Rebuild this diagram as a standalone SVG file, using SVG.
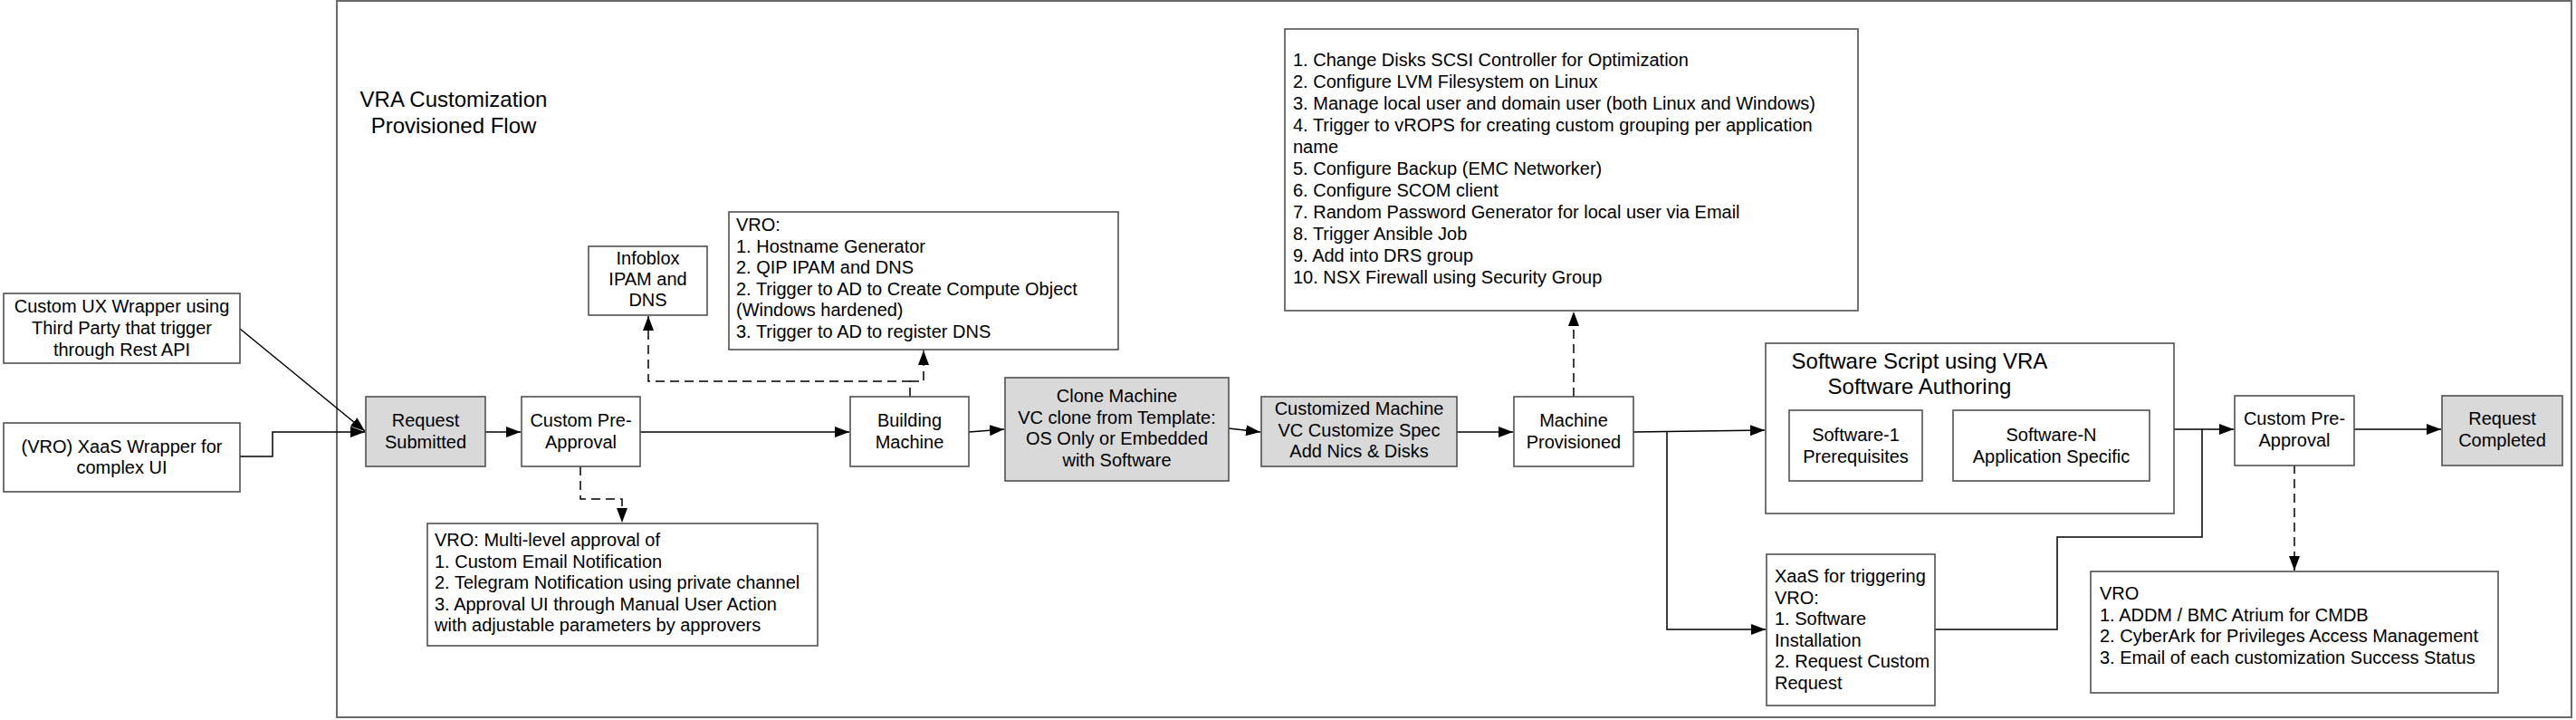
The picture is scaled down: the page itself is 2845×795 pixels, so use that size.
<svg xmlns="http://www.w3.org/2000/svg" width="2845" height="795" viewBox="0 0 2845 795">
<defs>
<style>
text{font-family:"Liberation Sans",Arial,sans-serif;font-size:20px;fill:#000}
.c{text-anchor:middle}
.t{font-size:24px}
.box{fill:#fff;stroke:#505050;stroke-width:1.6}
.gray{fill:#d9d9d9;stroke:#505050;stroke-width:1.6}
.frame{fill:#fff;stroke:#6a6a6a;stroke-width:2}
.ln{fill:none;stroke:#000;stroke-width:1.5}
.lg{fill:none;stroke:#7a7a7a;stroke-width:2}
.ds{fill:none;stroke:#000;stroke-width:1.5;stroke-dasharray:10,6}
</style>
<marker id="ar" markerWidth="17" markerHeight="12" refX="16" refY="6" orient="auto" markerUnits="userSpaceOnUse">
<path d="M0,0 L16,6 L0,12 z" fill="#000"/>
</marker>
</defs>
<rect x="372" y="1" width="2468" height="791" class="frame"/>
<g id="title">
<text class="c t" x="501" y="118">VRA Customization</text>
<text class="c t" x="501" y="147">Provisioned Flow</text>
</g>
<g id="connectors">
<path class="ln" d="M265,363 L403,476" marker-end="url(#ar)"/>
<path class="ln" d="M265,504 H301 V477 H403" marker-end="url(#ar)"/>
<path class="ln" d="M536,477 H575" marker-end="url(#ar)"/>
<path class="ln" d="M707,477 H938" marker-end="url(#ar)"/>
<path class="ln" d="M1070,477 L1109,474" marker-end="url(#ar)"/>
<path class="ln" d="M1357,473 L1392,477" marker-end="url(#ar)"/>
<path class="ln" d="M1609,477 H1671" marker-end="url(#ar)"/>
<path class="ln" d="M1804,477 L1949,475" marker-end="url(#ar)"/>
<path class="ln" d="M1841,477 V695 H1950" marker-end="url(#ar)"/>
<path class="lg" d="M2123,492 H2140"/>
<path class="ln" d="M2138,492 H2156" marker-end="url(#ar)"/>
<path class="ln" d="M2401,474 H2467" marker-end="url(#ar)"/>
<path class="ln" d="M2137,695 H2272 V593 H2432 V474"/>
<path class="ln" d="M2600,474 H2696" marker-end="url(#ar)"/>
<path class="ds" d="M1005,438 V421 H716 V349" marker-end="url(#ar)"/>
<path class="ds" d="M1005,421 H1020 V387" marker-end="url(#ar)"/>
<path class="ds" d="M641,515 V551 H687 V577" marker-end="url(#ar)"/>
<path class="ds" d="M1738,438 V344" marker-end="url(#ar)"/>
<path class="ds" d="M2534,513 V630" marker-end="url(#ar)"/>
</g>
<g id="custom-ux">
<rect class="box" x="4" y="324" width="261" height="77"/>
<text class="c" x="134.5" y="345">Custom UX Wrapper using</text>
<text class="c" x="134.5" y="369">Third Party that trigger</text>
<text class="c" x="134.5" y="393">through Rest API</text>
</g>
<g id="xaas-wrapper">
<rect class="box" x="4" y="467" width="261" height="76"/>
<text class="c" x="134.5" y="500">(VRO) XaaS Wrapper for</text>
<text class="c" x="134.5" y="523">complex UI</text>
</g>
<g id="request-submitted">
<rect class="gray" x="404" y="438" width="132" height="77"/>
<text class="c" x="470" y="471">Request</text>
<text class="c" x="470" y="495">Submitted</text>
</g>
<g id="custom-pre-approval-1">
<rect class="box" x="576" y="438" width="131" height="77"/>
<text class="c" x="641.5" y="471">Custom Pre-</text>
<text class="c" x="641.5" y="495">Approval</text>
</g>
<g id="multi-level">
<rect class="box" x="472" y="578" width="431" height="135"/>
<text x="480" y="603">VRO: Multi-level approval of</text>
<text x="480" y="626.5">1. Custom Email Notification</text>
<text x="480" y="650">2. Telegram Notification using private channel</text>
<text x="480" y="673.5">3. Approval UI through Manual User Action</text>
<text x="480" y="697">with adjustable parameters by approvers</text>
</g>
<g id="infoblox">
<rect class="box" x="650" y="272" width="131" height="76"/>
<text class="c" x="715.5" y="292">Infoblox</text>
<text class="c" x="715.5" y="315">IPAM and</text>
<text class="c" x="715.5" y="338">DNS</text>
</g>
<g id="vro-building">
<rect class="box" x="805" y="234" width="430" height="152"/>
<text x="813" y="255">VRO:</text>
<text x="813" y="278.5">1. Hostname Generator</text>
<text x="813" y="302">2. QIP IPAM and DNS</text>
<text x="813" y="325.5">2. Trigger to AD to Create Compute Object</text>
<text x="813" y="349">(Windows hardened)</text>
<text x="813" y="372.5">3. Trigger to AD to register DNS</text>
</g>
<g id="building-machine">
<rect class="box" x="939" y="438" width="131" height="77"/>
<text class="c" x="1004.5" y="471">Building</text>
<text class="c" x="1004.5" y="495">Machine</text>
</g>
<g id="clone-machine">
<rect class="gray" x="1110" y="417" width="247" height="114"/>
<text class="c" x="1233.5" y="444">Clone Machine</text>
<text class="c" x="1233.5" y="467.5">VC clone from Template:</text>
<text class="c" x="1233.5" y="491">OS Only or Embedded</text>
<text class="c" x="1233.5" y="514.5">with Software</text>
</g>
<g id="customized-machine">
<rect class="gray" x="1393" y="438" width="216" height="77"/>
<text class="c" x="1501" y="458">Customized Machine</text>
<text class="c" x="1501" y="481.5">VC Customize Spec</text>
<text class="c" x="1501" y="505">Add Nics &amp; Disks</text>
</g>
<g id="customization-list">
<rect class="box" x="1419" y="32" width="633" height="311"/>
<text x="1428" y="73">1. Change Disks SCSI Controller for Optimization</text>
<text x="1428" y="97">2. Configure LVM Filesystem on Linux</text>
<text x="1428" y="121">3. Manage local user and domain user (both Linux and Windows)</text>
<text x="1428" y="145">4. Trigger to vROPS for creating custom grouping per application</text>
<text x="1428" y="169">name</text>
<text x="1428" y="193">5. Configure Backup (EMC Networker)</text>
<text x="1428" y="217">6. Configure SCOM client</text>
<text x="1428" y="241">7. Random Password Generator for local user via Email</text>
<text x="1428" y="265">8. Trigger Ansible Job</text>
<text x="1428" y="289">9. Add into DRS group</text>
<text x="1428" y="313">10. NSX Firewall using Security Group</text>
</g>
<g id="machine-provisioned">
<rect class="box" x="1672" y="438" width="132" height="77"/>
<text class="c" x="1738" y="471">Machine</text>
<text class="c" x="1738" y="495">Provisioned</text>
</g>
<g id="software-script">
<rect class="box" x="1950" y="379" width="451" height="188"/>
<text class="c t" x="2120" y="407">Software Script using VRA</text>
<text class="c t" x="2120" y="435">Software Authoring</text>
</g>
<g id="software-1">
<rect class="box" x="1976" y="453" width="147" height="78"/>
<text class="c" x="2049.5" y="487">Software-1</text>
<text class="c" x="2049.5" y="511">Prerequisites</text>
</g>
<g id="software-n">
<rect class="box" x="2157" y="453" width="217" height="78"/>
<text class="c" x="2265.5" y="487">Software-N</text>
<text class="c" x="2265.5" y="511">Application Specific</text>
</g>
<g id="xaas-triggering">
<rect class="box" x="1951" y="612" width="186" height="167"/>
<text x="1960" y="643">XaaS for triggering</text>
<text x="1960" y="666.5">VRO:</text>
<text x="1960" y="690">1. Software</text>
<text x="1960" y="713.5">Installation</text>
<text x="1960" y="737">2. Request Custom</text>
<text x="1960" y="760.5">Request</text>
</g>
<g id="custom-pre-approval-2">
<rect class="box" x="2468" y="437" width="132" height="77"/>
<text class="c" x="2534" y="469">Custom Pre-</text>
<text class="c" x="2534" y="493">Approval</text>
</g>
<g id="vro-final">
<rect class="box" x="2309" y="631" width="450" height="134"/>
<text x="2319" y="662">VRO</text>
<text x="2319" y="685.5">1. ADDM / BMC Atrium for CMDB</text>
<text x="2319" y="709">2. CyberArk for Privileges Access Management</text>
<text x="2319" y="732.5">3. Email of each customization Success Status</text>
</g>
<g id="request-completed">
<rect class="gray" x="2697" y="437" width="133" height="77"/>
<text class="c" x="2763.5" y="469">Request</text>
<text class="c" x="2763.5" y="493">Completed</text>
</g>
</svg>
